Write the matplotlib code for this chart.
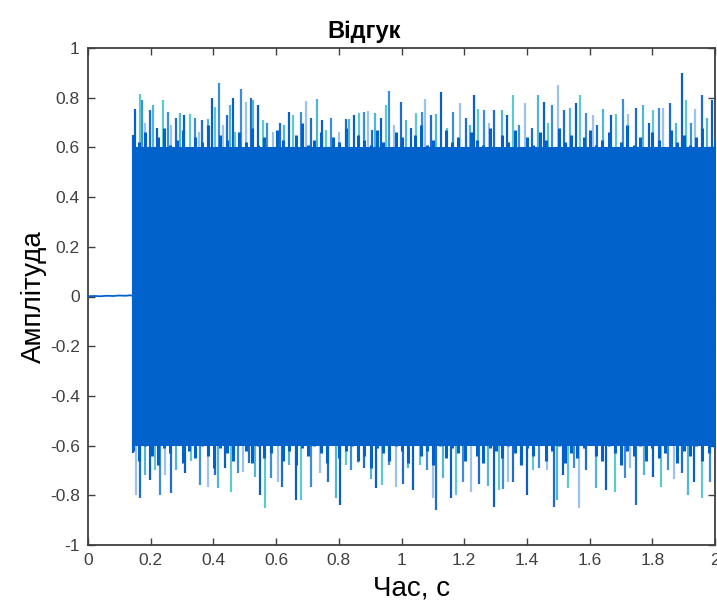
import matplotlib
matplotlib.use("Agg")
import matplotlib.pyplot as plt
import numpy as np

plt.rcParams['font.family'] = ['Liberation Sans Narrow', 'Liberation Sans', 'DejaVu Sans']

# ---- data ----
title = "Відгук"
xlabel = "Час, с"
ylabel = "Амплітуда"
xticks = [0, 0.2, 0.4, 0.6, 0.8, 1, 1.2, 1.4, 1.6, 1.8, 2]
yticks = [-1, -0.8, -0.6, -0.4, -0.2, 0, 0.2, 0.4, 0.6, 0.8, 1]

# quiet segment before the onset
pre_t = [0.0, 0.02, 0.04, 0.06, 0.08, 0.10, 0.12, 0.135, 0.143]
pre_v = [0.001, 0.002, 0.001, 0.003, 0.002, 0.004, 0.003, 0.005, 0.002]

# dense body of the signal: core level and ragged upper / lower edge
onset, t_end = 0.143, 2.0
core_hi, core_lo = 0.60, -0.60
band_hi = [0.65, 0.62, 0.66, 0.60, 0.64, 0.68, 0.61, 0.63, 0.67, 0.59,
           0.64, 0.62, 0.69, 0.60, 0.65, 0.63, 0.58, 0.66, 0.62, 0.68,
           0.61, 0.64, 0.60, 0.67, 0.63, 0.59, 0.65, 0.70, 0.61, 0.63,
           0.66, 0.60, 0.64, 0.62, 0.68, 0.59, 0.65, 0.63, 0.61, 0.67,
           0.62, 0.60, 0.66, 0.64, 0.58, 0.65, 0.69, 0.61, 0.63, 0.60,
           0.67, 0.62, 0.64, 0.59, 0.66, 0.63, 0.61, 0.68, 0.60, 0.65,
           0.62, 0.67, 0.59, 0.64, 0.61, 0.66, 0.63, 0.60, 0.68, 0.62,
           0.65, 0.59, 0.64, 0.67, 0.61, 0.63, 0.66, 0.60, 0.62, 0.69,
           0.61, 0.64, 0.58, 0.66, 0.63, 0.60, 0.67, 0.62, 0.65, 0.61,
           0.64, 0.68, 0.60, 0.63]
band_lo = [-0.62, -0.66, -0.60, -0.64, -0.68, -0.61, -0.63, -0.59, -0.67, -0.62,
           -0.65, -0.60, -0.64, -0.69, -0.61, -0.63, -0.66, -0.59, -0.62, -0.67,
           -0.60, -0.65, -0.63, -0.58, -0.66, -0.62, -0.68, -0.61, -0.64, -0.60,
           -0.63, -0.67, -0.59, -0.65, -0.62, -0.60, -0.66, -0.64, -0.69, -0.61,
           -0.63, -0.66, -0.60, -0.62, -0.67, -0.59, -0.64, -0.62, -0.68, -0.60,
           -0.65, -0.61, -0.63, -0.66, -0.59, -0.64, -0.67, -0.61, -0.62, -0.65,
           -0.60, -0.63, -0.68, -0.61, -0.64, -0.59, -0.66, -0.62, -0.60, -0.67,
           -0.63, -0.65, -0.61, -0.58, -0.64, -0.66, -0.60, -0.63, -0.68, -0.62,
           -0.64, -0.60, -0.66, -0.61, -0.65, -0.63, -0.59, -0.67, -0.62, -0.64,
           -0.60, -0.66, -0.63, -0.61]

# positive peaks
up_t = [0.150, 0.166, 0.171, 0.182, 0.197, 0.206, 0.220, 0.238, 0.255, 0.265, 0.282,
        0.293, 0.305, 0.325, 0.341, 0.355, 0.365, 0.382, 0.394, 0.404, 0.418, 0.430,
        0.442, 0.452, 0.461, 0.470, 0.487, 0.505, 0.519, 0.527, 0.542, 0.558, 0.570,
        0.590, 0.611, 0.625, 0.641, 0.654, 0.681, 0.694, 0.712, 0.730, 0.747, 0.760,
        0.776, 0.800, 0.822, 0.834, 0.850, 0.864, 0.880, 0.893, 0.905, 0.917, 0.935,
        0.949, 0.960, 0.975, 0.999, 1.013, 1.030, 1.047, 1.066, 1.076, 1.094, 1.110,
        1.126, 1.145, 1.164, 1.187, 1.206, 1.220, 1.232, 1.243, 1.262, 1.280, 1.296,
        1.321, 1.335, 1.355, 1.375, 1.395, 1.415, 1.437, 1.453, 1.467, 1.480, 1.498,
        1.519, 1.537, 1.558, 1.570, 1.590, 1.610, 1.625, 1.643, 1.668, 1.683, 1.705,
        1.724, 1.749, 1.771, 1.788, 1.803, 1.820, 1.834, 1.856, 1.875, 1.896, 1.909,
        1.925, 1.936, 1.960, 1.975, 1.990]
up_v = [0.755, 0.814, 0.79, 0.70, 0.75, 0.77, 0.68, 0.79, 0.744, 0.69, 0.72,
        0.74, 0.73, 0.735, 0.72, 0.66, 0.71, 0.715, 0.797, 0.764, 0.858, 0.69,
        0.73, 0.77, 0.797, 0.66, 0.834, 0.782, 0.797, 0.79, 0.77, 0.71, 0.70,
        0.66, 0.70, 0.69, 0.744, 0.73, 0.744, 0.788, 0.72, 0.793, 0.71, 0.67,
        0.72, 0.66, 0.715, 0.715, 0.73, 0.74, 0.744, 0.745, 0.67, 0.74, 0.72,
        0.77, 0.828, 0.69, 0.784, 0.71, 0.68, 0.74, 0.744, 0.793, 0.73, 0.735,
        0.824, 0.68, 0.744, 0.777, 0.72, 0.69, 0.81, 0.755, 0.752, 0.70, 0.75,
        0.752, 0.73, 0.81, 0.69, 0.777, 0.68, 0.81, 0.784, 0.70, 0.77, 0.851,
        0.752, 0.76, 0.777, 0.81, 0.74, 0.73, 0.69, 0.755, 0.73, 0.735, 0.793,
        0.735, 0.76, 0.77, 0.70, 0.75, 0.76, 0.76, 0.777, 0.70, 0.90, 0.79,
        0.70, 0.755, 0.81, 0.72, 0.79]

# negative peaks
dn_t = [0.153, 0.166, 0.182, 0.197, 0.213, 0.229, 0.245, 0.266, 0.282, 0.309, 0.330,
        0.357, 0.383, 0.404, 0.415, 0.436, 0.457, 0.479, 0.495, 0.512, 0.532, 0.548,
        0.566, 0.585, 0.606, 0.620, 0.640, 0.664, 0.681, 0.712, 0.739, 0.765, 0.790,
        0.805, 0.822, 0.840, 0.860, 0.880, 0.903, 0.919, 0.938, 0.960, 0.983, 1.004,
        1.020, 1.036, 1.060, 1.080, 1.100, 1.110, 1.132, 1.158, 1.174, 1.195, 1.222,
        1.248, 1.275, 1.296, 1.312, 1.323, 1.339, 1.357, 1.380, 1.399, 1.418, 1.440,
        1.465, 1.487, 1.497, 1.514, 1.530, 1.550, 1.567, 1.590, 1.622, 1.652, 1.682,
        1.713, 1.730, 1.747, 1.774, 1.803, 1.827, 1.850, 1.869, 1.894, 1.915, 1.933,
        1.960, 1.983]
dn_v = [-0.80, -0.812, -0.72, -0.738, -0.70, -0.80, -0.72, -0.792, -0.70, -0.71, -0.66,
        -0.759, -0.765, -0.72, -0.77, -0.69, -0.785, -0.71, -0.705, -0.67, -0.725, -0.80,
        -0.852, -0.73, -0.745, -0.765, -0.68, -0.819, -0.819, -0.765, -0.71, -0.745, -0.812,
        -0.839, -0.68, -0.70, -0.67, -0.69, -0.735, -0.772, -0.76, -0.68, -0.765, -0.755,
        -0.69, -0.779, -0.68, -0.70, -0.812, -0.859, -0.73, -0.812, -0.80, -0.745, -0.785,
        -0.755, -0.762, -0.846, -0.78, -0.775, -0.745, -0.745, -0.68, -0.80, -0.70, -0.69,
        -0.70, -0.846, -0.819, -0.72, -0.772, -0.69, -0.852, -0.70, -0.772, -0.78, -0.785,
        -0.73, -0.69, -0.839, -0.72, -0.725, -0.765, -0.70, -0.735, -0.71, -0.80, -0.745,
        -0.812, -0.745]

# ---- drawing ----
blue = '#0062CA'
spike_cols = ['#0A5FC4', '#5EC8CF', '#3C8EDB', '#9CC3EC', '#1E6CCF', '#4FB6D6']

fig = plt.figure(figsize=(7.17, 6.08), dpi=100)
ax = fig.add_axes([88/717, 1-545/608, (715-88)/717, (545-48)/608])

band_t = np.linspace(onset, t_end, len(band_hi))

ax.plot(pre_t, pre_v, color=blue, lw=1.3, zorder=3)
for i, (t, v) in enumerate(zip(up_t, up_v)):
    ax.vlines(t, 0.5, v, color=spike_cols[i % len(spike_cols)], lw=1.6, zorder=1 + (i % 2))
for i, (t, v) in enumerate(zip(dn_t, dn_v)):
    ax.vlines(t, -0.5, v, color=spike_cols[(i + 3) % len(spike_cols)], lw=1.6, zorder=1 + (i % 2))
ax.fill_between([onset, t_end], [core_lo] * 2, [core_hi] * 2, color=blue, lw=0, zorder=2.5)
ax.vlines(band_t, 0, band_hi, color=blue, lw=2.2, zorder=2.6)
ax.vlines(band_t, band_lo, 0, color=blue, lw=2.2, zorder=2.6)
ax.vlines([onset], -0.63, 0.65, color=blue, lw=1.5, zorder=2.6)

ax.set_xlim(0, 2)
ax.set_ylim(-1, 1)
ax.set_xticks(xticks)
ax.set_xticklabels([f"{x:g}" for x in xticks])
ax.set_yticks(yticks)
ax.set_yticklabels([f"{y:g}" for y in yticks])
ax.tick_params(direction='in', length=5, width=1, top=True, right=True,
               labelsize=12.5, colors='#404040', pad=6)
for s in ax.spines.values():
    s.set_color('#404040')
    s.set_linewidth(1.3)

ax.set_title(title, fontsize=17, fontweight='bold', x=(364 - 88) / (715 - 88), y=1.0, pad=7)
ax.set_xlabel(xlabel, fontsize=20, labelpad=0)
ax.xaxis.set_label_coords((412 - 88) / (715 - 88), -0.062)
ax.set_ylabel(ylabel, fontsize=20, labelpad=2)

fig.savefig('out.png', dpi=100)
